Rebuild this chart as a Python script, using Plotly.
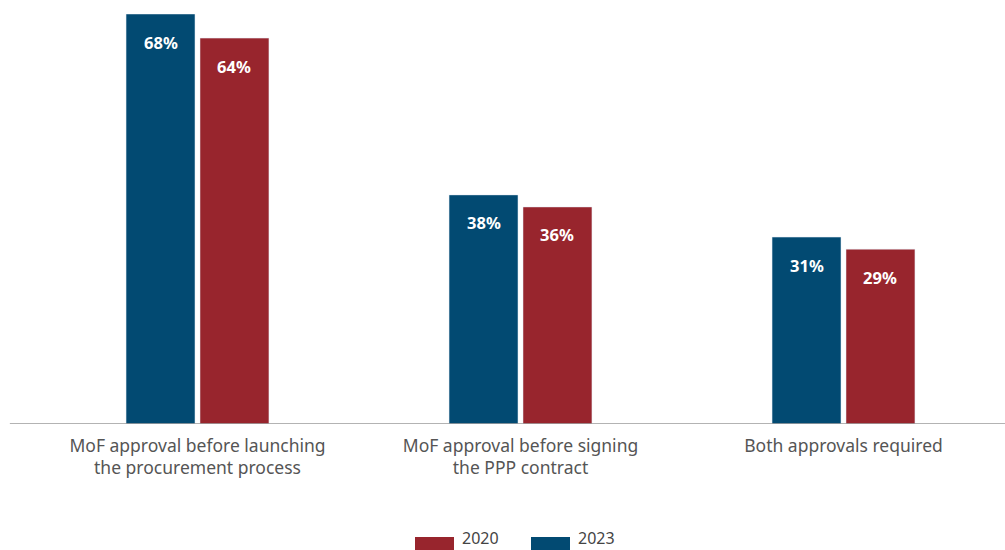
import plotly.graph_objects as go

categories = [
    "MoF approval before launching<br>the procurement process",
    "MoF approval before signing<br>the PPP contract",
    "Both approvals required",
]
values_2023 = [68, 38, 31]
values_2020 = [64, 36, 29]

BLUE = "#024a72"
RED = "#98252d"
FONT = "Noto Sans"
BARGAP = 0.542

fig = go.Figure()
fig.add_trace(go.Bar(name="2023", x=categories, y=values_2023, marker_color=BLUE,
                     showlegend=False))
fig.add_trace(go.Bar(name="2020", x=categories, y=values_2020, marker_color=RED,
                     showlegend=False))

# value labels placed inside the top of each bar
offset = (1 - BARGAP) / 4
for i, cat in enumerate(categories):
    for v, off in ((values_2023[i], -offset), (values_2020[i], offset)):
        fig.add_annotation(x=i + off, y=v, xref="x", yref="y",
                           text=f"<b>{v}%</b>", showarrow=False,
                           yshift=-28, yanchor="middle",
                           font=dict(family=FONT, size=16.5, color="white"))

# baseline extending slightly to the left of the category band
fig.add_shape(type="line", xref="paper", yref="y", x0=-0.027, x1=1, y0=0, y1=0,
              line=dict(color="#9a9a9a", width=1.5))

# custom legend with wide swatches
legend_items = [("2020", RED, 415), ("2023", BLUE, 531)]
for label, color, px in legend_items:
    x0 = (px - 36) / 969
    x1 = (px + 39 - 36) / 969
    fig.add_shape(type="rect", xref="paper", yref="paper",
                  x0=x0, x1=x1, y0=(424 - 550) / 410, y1=(424 - 537) / 410,
                  line=dict(width=0), fillcolor=color)
    fig.add_annotation(xref="paper", yref="paper", x=(px + 46 - 36) / 969,
                       y=(424 - 538) / 410, text=label, showarrow=False,
                       xanchor="left", yanchor="middle", borderpad=0,
                       font=dict(family=FONT, size=16, color="#444444"))

fig.update_layout(
    width=1005, height=550,
    margin=dict(l=36, r=0, t=14, b=126),
    barmode="group", bargap=BARGAP, bargroupgap=0.068,
    plot_bgcolor="white", paper_bgcolor="white",
    font=dict(family=FONT),
    xaxis=dict(showline=False, ticks="", ticklabelstandoff=9,
               tickfont=dict(family=FONT, size=17.5, color="#555555")),
    yaxis=dict(range=[0, 68], visible=False, showgrid=False, zeroline=False),
)

fig.write_html("out.html")
